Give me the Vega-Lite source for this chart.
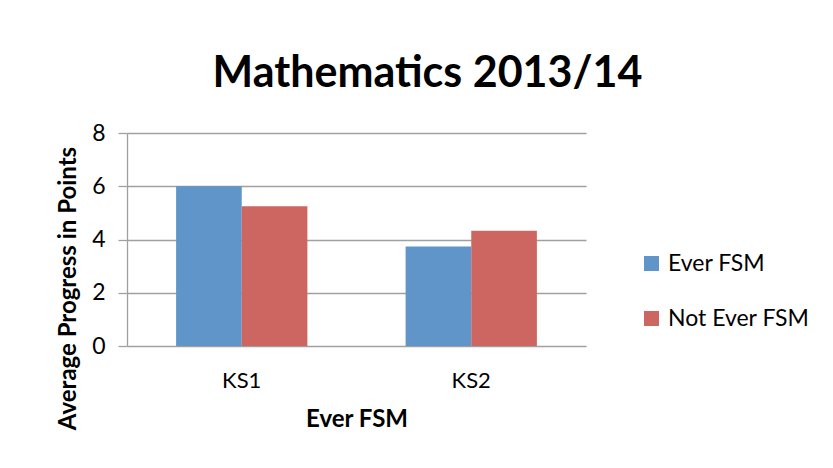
{
  "$schema": "https://vega.github.io/schema/vega-lite/v6.json",
  "width": 459,
  "height": 213,
  "autosize": "none",
  "padding": {"left": 127, "top": 133, "right": 247, "bottom": 122},
  "background": "white",
  "title": {
    "text": "Mathematics 2013/14",
    "font": "Lato",
    "fontSize": 43,
    "fontWeight": "bold",
    "color": "black",
    "anchor": "middle",
    "frame": "group",
    "dx": 71,
    "offset": 26
  },
  "data": {
    "values": [
      {"stage": "KS1", "group": "Ever FSM", "value": 6.0},
      {"stage": "KS1", "group": "Not Ever FSM", "value": 5.25},
      {"stage": "KS2", "group": "Ever FSM", "value": 3.74},
      {"stage": "KS2", "group": "Not Ever FSM", "value": 4.33}
    ]
  },
  "mark": {"type": "bar"},
  "encoding": {
    "x": {
      "field": "stage",
      "type": "nominal",
      "title": "Ever FSM",
      "scale": {"paddingInner": 0.428, "paddingOuter": 0.214},
      "axis": {
        "labelAngle": 0,
        "ticks": false,
        "domain": false,
        "labelFont": "Lato",
        "labelFontSize": 22,
        "labelColor": "black",
        "labelPadding": 24,
        "titleFont": "Lato",
        "titleFontSize": 24,
        "titleFontWeight": "bold",
        "titleColor": "black",
        "titlePadding": 16
      }
    },
    "xOffset": {"field": "group", "type": "nominal", "scale": {"paddingInner": 0, "paddingOuter": 0}},
    "y": {
      "field": "value",
      "type": "quantitative",
      "title": "Average Progress in Points",
      "scale": {"domain": [0, 8], "nice": false},
      "axis": {
        "values": [0, 2, 4, 6, 8],
        "grid": true,
        "gridColor": "#a0a0a0",
        "gridWidth": 1.3,
        "domain": true,
        "domainColor": "#a0a0a0",
        "domainWidth": 1.3,
        "ticks": true,
        "tickColor": "#a0a0a0",
        "tickWidth": 1.3,
        "tickSize": 9,
        "labelFont": "Lato",
        "labelFontSize": 23,
        "labelColor": "black",
        "labelPadding": 13,
        "titleFont": "Lato",
        "titleFontSize": 24,
        "titleFontWeight": "bold",
        "titleColor": "black",
        "titleX": -59,
        "titleY": 155,
        "titleBaseline": "middle",
        "titleAlign": "center"
      }
    },
    "color": {
      "field": "group",
      "type": "nominal",
      "title": null,
      "scale": {"domain": ["Ever FSM", "Not Ever FSM"], "range": ["#5F95C9", "#CD6660"]},
      "legend": {
        "orient": "none",
        "legendX": 513,
        "legendY": 119,
        "symbolType": "square",
        "symbolSize": 225,
        "symbolStrokeWidth": 0,
        "labelFont": "Lato",
        "labelFontSize": 23,
        "labelColor": "black",
        "labelOffset": 5,
        "rowPadding": 31,
        "padding": 0
      }
    }
  },
  "config": {"view": {"stroke": null}}
}
